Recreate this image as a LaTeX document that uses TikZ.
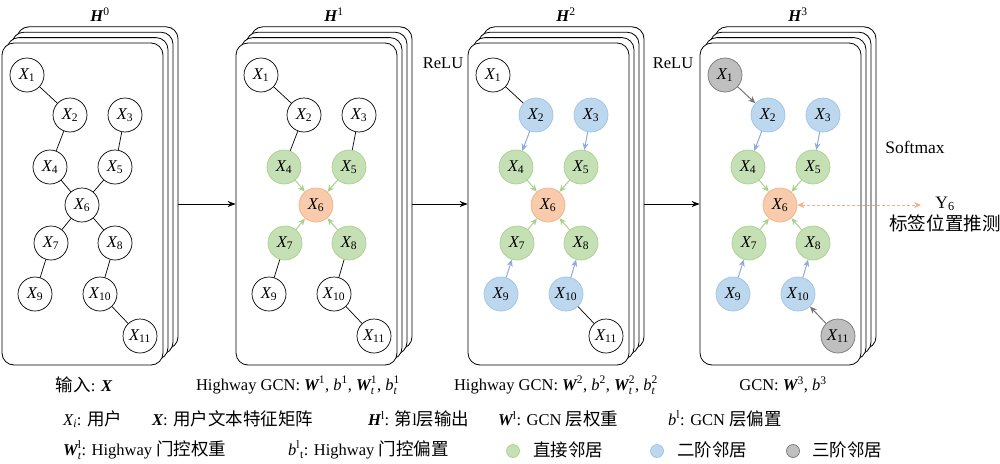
\documentclass[tikz,border=0pt]{standalone}
\usepackage{amsmath}
\usepackage{fontspec}
\setmainfont{Liberation Serif}
\newfontfamily\cjk[Scale=1.06]{Noto Sans CJK SC}
\usetikzlibrary{arrows.meta,calc}

\newcommand{\xit}[1]{\text{\itshape #1}}
\newcommand{\xbf}[1]{\text{\bfseries\itshape #1}}
\newcommand{\xup}[1]{\text{#1}}

\definecolor{fillgreen}{RGB}{197,224,180}
\definecolor{bdgreen}{RGB}{169,209,142}
\definecolor{fillblue}{RGB}{189,215,238}
\definecolor{bdblue}{RGB}{157,195,230}
\definecolor{arblue}{RGB}{143,170,220}
\definecolor{fillorange}{RGB}{248,203,173}
\definecolor{bdorange}{RGB}{244,177,131}
\definecolor{fillgray}{RGB}{191,191,191}
\definecolor{bdgray}{RGB}{118,118,118}

\tikzset{
  card/.style={draw, line width=0.8pt, fill=white, rounded corners=12pt, minimum width=161pt, minimum height=322pt, inner sep=0pt},
  nd/.style={circle, draw, line width=0.7pt, fill=white, minimum size=34pt, inner sep=0pt},
  fo/.style={draw=bdorange, fill=fillorange},
  fg/.style={draw=bdgreen, fill=fillgreen},
  fb/.style={draw=bdblue, fill=fillblue},
  fk/.style={draw=bdgray, fill=fillgray},
  ndo/.style={nd, fo}, ndg/.style={nd, fg}, ndb/.style={nd, fb}, ndk/.style={nd, fk},
  ed/.style={draw=black, line width=0.7pt},
  edg/.style={draw=bdgreen, line width=1pt, -{Stealth[length=7pt,width=6pt]}},
  edb/.style={draw=arblue, line width=1pt, -{Stealth[length=7pt,width=6pt]}},
  edk/.style={draw=bdgray, line width=1pt, -{Stealth[length=7pt,width=6pt]}},
  lgc/.style={circle, line width=0.7pt, minimum size=13pt, inner sep=0pt},
  lgt/.style={anchor=west, inner sep=0pt}
}

\begin{document}
\begin{tikzpicture}[x=1pt, y=-1pt, font=\fontsize{16.5}{19}\selectfont]
\useasboundingbox[fill=white] (0,0) rectangle (1000,463);
\foreach \p/\ox in {0/2,1/236,2/468,3/700}{
  \begin{scope}[xshift=\ox]
    \foreach \k in {3,2,1}
      \node[card] (c\p-\k) at (80.5+5*\k, 204-5.4*\k) {};
    \node[card] (c\p) at (80.5,204) {};
    \node (h\p) at (98,15) {$\xbf{H}^{\xup{\p}}$};
    \foreach \i/\x/\y/\l/\c in {1/25/75/3/k, 2/68/115/2/b, 3/123/115/2/b, 4/48/167/1/g,
        5/113/167/1/g, 6/80/205/1/o, 7/49/243/1/g, 8/113/243/1/g, 9/33/294/2/b,
        10/98/294/2/b, 11/138/336/3/k}{
      \ifnum\l>\p \def\st{nd}\else\def\st{nd\c}\fi
      \node[\st] (n\p-\i) at (\x,\y) {$\xit{X}_{\xup{\i}}$};
    }
    \foreach \a/\b/\l/\c in {1/2/3/k, 2/4/2/b, 3/5/2/b, 4/6/1/g, 5/6/1/g, 7/6/1/g,
        8/6/1/g, 9/7/2/b, 10/8/2/b, 11/10/3/k}{
      \ifnum\l>\p \def\st{ed}\else\def\st{ed\c}\fi
      \draw[\st] (n\p-\a) -- (n\p-\b);
    }
  \end{scope}
}
\foreach \p/\q in {0/1,1/2,2/3}
  \draw[line width=0.7pt, -{Stealth[length=8pt,width=6pt]}] (c\p-3.east |- c\p.east) -- (c\q.west);

\node (relu1) at (443,63) {ReLU};
\node (relu2) at (673,63) {ReLU};
\node[font=\fontsize{17.5}{20}\selectfont] (sm) at (915,147) {Softmax};
\node[font=\fontsize{17.5}{20}\selectfont] (y6) at (945,204) {Y$_{\xup{6}}$};
\node[font=\fontsize{17.5}{20}\selectfont] (tag) at (945,223) {\cjk 标签位置推测};
\coordinate (yend) at (921,205);
\draw[draw=bdorange, line width=0.8pt, dash pattern=on 3pt off 2pt, {Stealth[length=7pt,width=6pt]}-{Stealth[length=7pt,width=6pt]}] (n3-6) -- (yend);

\node (in0) at (84,385) {{\cjk 输入}: $\xbf{X}$};
\node (in1) at (298,385) {Highway GCN: $\xbf{W}^{\xup{1}}$, $\xit{b}^{\xup{1}}$, $\xbf{W}^{\xup{1}}_{\xit{t}}$, $\xit{b}^{\xup{1}}_{\xit{t}}$};
\node (in2) at (556,385) {Highway GCN: $\xbf{W}^{\xup{2}}$, $\xit{b}^{\xup{2}}$, $\xbf{W}^{\xup{2}}_{\xit{t}}$, $\xit{b}^{\xup{2}}_{\xit{t}}$};
\node (in3) at (783,385) {GCN: $\xbf{W}^{\xup{3}}$, $\xit{b}^{\xup{3}}$};

\node[lgt] (l1) at (63,419) {$\xit{X}_{\xit{i}}$: {\cjk 用户}};
\node[lgt] (l2) at (152,419) {$\xbf{X}$: {\cjk 用户文本特征矩阵}};
\node[lgt] (l3) at (368,419) {$\xbf{H}^{\xup{l}}$: {\cjk 第}l{\cjk 层输出}};
\node[lgt] (l4) at (498,419) {$\xbf{W}^{\xup{l}}$: GCN {\cjk 层权重}};
\node[lgt] (l5) at (668,419) {$\xit{b}^{\xup{l}}$: GCN {\cjk 层偏置}};
\node[lgt] (l6) at (63,450) {$\xbf{W}^{\xup{l}}_{\xit{t}}$: Highway {\cjk 门控权重}};
\node[lgt] (l7) at (288,450) {$\xit{b}^{\xup{l}}{}_{\xup{t}}$: Highway {\cjk 门控偏置}};
\node[lgc, fg] (g1) at (513,451) {};
\node[lgt] (g1t) at (533,450) {\cjk 直接邻居};
\node[lgc, fb] (g2) at (657,451) {};
\node[lgt] (g2t) at (677,450) {\cjk 二阶邻居};
\node[lgc, fk] (g3) at (793,451) {};
\node[lgt] (g3t) at (812,450) {\cjk 三阶邻居};
\end{tikzpicture}
\end{document}
